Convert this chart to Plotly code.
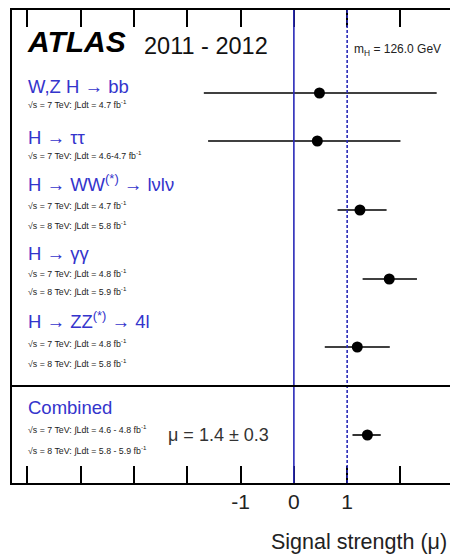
import plotly.graph_objects as go

# ---- data ----
channels = ["W,Z H → bb", "H → ττ", "H → WW<sup>(*)</sup> → lνlν", "H → γγ",
            "H → ZZ<sup>(*)</sup> → 4l", "Combined"]
mu = [0.48, 0.44, 1.24, 1.79, 1.19, 1.38]
mu_lo = [-1.69, -1.61, 0.82, 1.29, 0.58, 1.10]
mu_hi = [2.68, 2.00, 1.74, 2.31, 1.80, 1.63]
lumi_labels = [
    ["√s = 7 TeV: ∫Ldt = 4.7 fb<sup>-1</sup>"],
    ["√s = 7 TeV: ∫Ldt = 4.6-4.7 fb<sup>-1</sup>"],
    ["√s = 7 TeV: ∫Ldt = 4.7 fb<sup>-1</sup>", "√s = 8 TeV: ∫Ldt = 5.8 fb<sup>-1</sup>"],
    ["√s = 7 TeV: ∫Ldt = 4.8 fb<sup>-1</sup>", "√s = 8 TeV: ∫Ldt = 5.9 fb<sup>-1</sup>"],
    ["√s = 7 TeV: ∫Ldt = 4.8 fb<sup>-1</sup>", "√s = 8 TeV: ∫Ldt = 5.8 fb<sup>-1</sup>"],
    ["√s = 7 TeV: ∫Ldt = 4.6 - 4.8 fb<sup>-1</sup>", "√s = 8 TeV: ∫Ldt = 5.8 - 5.9 fb<sup>-1</sup>"],
]
tick_vals = [-5, -4, -3, -2, -1, 0, 1, 2, 3]
label_vals = [-1, 0, 1]
label_text = ["-1", "0", "1"]
combined_text = "μ = 1.4 ± 0.3"

# ---- layout helpers ----
W, H = 450, 558
ML, MT, MB = 12, 10, 75
PH = H - MT - MB
YR = 10.0
XR = [-5.29, 2.93]
def py(px):  # page pixel -> y data unit
    return (px - MT) / PH * YR
def px_x(px):  # page pixel -> paper x
    return (px - ML) / (W - ML)

row_px = [93, 141, 210, 279, 347, 435]
row_y = [py(p) for p in row_px]
label_px = [86, 137, 183, 253, 320, 407]
lumi_px = [[104], [155], [205, 225], [273, 291], [343, 363], [429, 450]]

FONT = "Liberation Sans, Arial"
BLUE = "#3434cc"

fig = go.Figure()
fig.add_trace(go.Scatter(
    x=mu, y=row_y, mode="markers",
    marker=dict(color="black", size=11, symbol="circle"),
    error_x=dict(type="data", symmetric=False,
                 array=[h - m for h, m in zip(mu_hi, mu)],
                 arrayminus=[m - l for m, l in zip(mu, mu_lo)],
                 color="black", thickness=1.6, width=0),
    showlegend=False, cliponaxis=False))
# invisible trace to activate the label axis
fig.add_trace(go.Scatter(x=label_vals, y=[None] * len(label_vals), xaxis="x2",
                         mode="markers", showlegend=False, hoverinfo="skip"))

ann = []
ann.append(dict(text="<b><i>ATLAS</i></b>", x=px_x(25), xref="paper", y=py(41), yref="y",
                xanchor="left", yanchor="middle", showarrow=False,
                font=dict(family=FONT, size=30, color="black")))
ann.append(dict(text="2011 - 2012", x=px_x(142), xref="paper", y=py(46), yref="y",
                xanchor="left", yanchor="middle", showarrow=False,
                font=dict(family=FONT, size=23.5, color="#111")))
ann.append(dict(text="m<sub>H</sub> = 126.0 GeV", x=px_x(352), xref="paper", y=py(50), yref="y",
                xanchor="left", yanchor="middle", showarrow=False,
                font=dict(family=FONT, size=12, color="#222")))
for name, lp, lumis, lps in zip(channels, label_px, lumi_labels, lumi_px):
    ann.append(dict(text=name, x=px_x(26), xref="paper", y=py(lp), yref="y",
                    xanchor="left", yanchor="middle", showarrow=False,
                    font=dict(family=FONT, size=18.5, color=BLUE)))
    for t, p in zip(lumis, lps):
        ann.append(dict(text=t, x=px_x(26), xref="paper", y=py(p), yref="y",
                        xanchor="left", yanchor="middle", showarrow=False,
                        font=dict(family=FONT, size=8.8, color="#222")))
ann.append(dict(text=combined_text, x=px_x(166), xref="paper", y=py(435), yref="y",
                xanchor="left", yanchor="middle", showarrow=False,
                font=dict(family=FONT, size=18, color="#333")))
ann.append(dict(text="Signal strength (μ)", x=px_x(449), xref="paper", y=-0.125, yref="paper",
                xanchor="right", yanchor="middle", showarrow=False,
                font=dict(family=FONT, size=21.5, color="#222")))

shapes = [
    dict(type="line", xref="x", yref="paper", x0=0, x1=0, y0=0, y1=1,
         line=dict(color="#2a2ab8", width=1.6)),
    dict(type="line", xref="x", yref="paper", x0=1, x1=1, y0=0, y1=1,
         line=dict(color="#2a2ab8", width=1.6, dash="3px,2px")),
    dict(type="line", xref="paper", yref="y", x0=0, x1=1.05, y0=py(386), y1=py(386),
         line=dict(color="black", width=2)),
]

fig.update_layout(
    width=W, height=H, margin=dict(l=ML, r=0, t=MT, b=MB),
    paper_bgcolor="white", plot_bgcolor="white",
    annotations=ann, shapes=shapes,
    xaxis=dict(range=XR, tickvals=tick_vals, showticklabels=False,
               ticks="inside", ticklen=17, tickwidth=1.6, tickcolor="black",
               showline=True, linecolor="black", linewidth=2, mirror="ticks",
               showgrid=False, zeroline=False),
    xaxis2=dict(range=XR, overlaying="x", side="bottom", tickvals=label_vals,
                ticktext=label_text, ticks="", showline=False, showgrid=False,
                zeroline=False, ticklabelstandoff=4,
                tickfont=dict(family=FONT, size=21, color="#222")),
    yaxis=dict(range=[YR, 0], showticklabels=False, ticks="", showgrid=False,
               zeroline=False, showline=True, linecolor="black", linewidth=2, mirror=False),
)
fig.write_html("out.html")
